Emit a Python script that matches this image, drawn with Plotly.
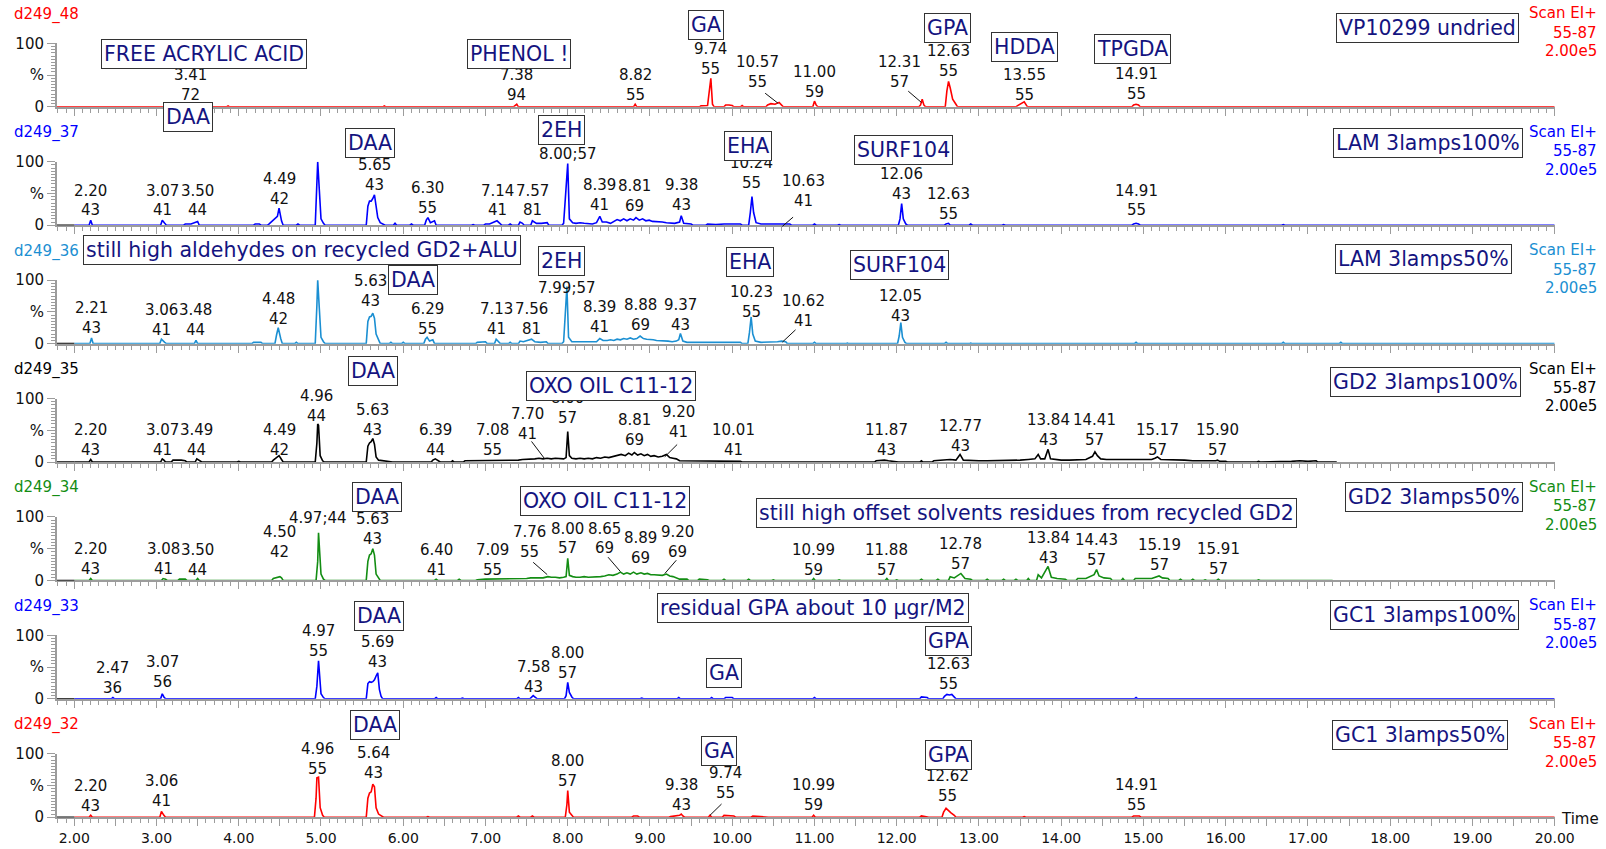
import plotly.graph_objects as go

# ------------------------------------------------------------------ data
panel_ids = ["d249_48", "d249_37", "d249_36", "d249_35", "d249_34", "d249_33", "d249_32"]
scan_lines = ["Scan EI+", "55-87", "2.00e5"]
time_ticks = [2.00, 3.00, 4.00, 5.00, 6.00, 7.00, 8.00, 9.00, 10.00, 11.00,
              12.00, 13.00, 14.00, 15.00, 16.00, 17.00, 18.00, 19.00, 20.00]
time_tick_text = ["2.00", "3.00", "4.00", "5.00", "6.00", "7.00", "8.00", "9.00", "10.00", "11.00",
                  "12.00", "13.00", "14.00", "15.00", "16.00", "17.00", "18.00", "19.00", "20.00"]
y_tick_vals = [0, 50, 100]
y_tick_text = ["0", "%", "100"]
trace_start = [1.79, 2.00, 2.00, 2.00, 2.00, 2.00, 2.00]
trace_end = [20.00, 20.00, 20.00, 17.35, 17.30, 20.00, 20.00]

# retention time (min) / relative intensity (%)
rt_1 = [3.41, 3.87, 5.77, 7.36, 7.38, 8.82, 9.62, 9.70, 9.74, 9.76, 9.92, 9.96, 10.00, 10.12,
        10.43, 10.47, 10.52, 10.57, 10.60, 11.00, 11.02, 12.29, 12.31, 12.33, 12.61, 12.63,
        12.65, 12.68, 12.72, 13.47, 13.55, 13.57, 14.88, 14.91, 14.94, 17.24, 19.14]
pct_1 = [2, 1.5, 1.5, 2, 4, 4, 1.5, 2, 45, 4, 3, 3, 2, 2,
         3, 5, 4, 7, 2, 9, 3, 3, 12, 3, 25, 40,
         30, 12, 4, 2, 8, 3, 3, 4, 3, 1, 1]

rt_2 = [2.20, 3.07, 3.10, 3.35, 3.42, 3.50, 4.20, 4.25, 4.37, 4.47, 4.49, 4.52, 4.72, 4.95, 4.96,
        4.98, 5.00, 5.03, 5.57, 5.59, 5.61, 5.63, 5.65, 5.67, 5.69, 5.72, 5.76, 5.90, 6.10, 6.28,
        6.30, 6.33, 6.38, 6.85, 7.00, 7.05, 7.14, 7.18, 7.30, 7.42, 7.45, 7.57, 7.62, 7.68, 7.75,
        7.95, 8.00, 8.02, 8.06, 8.10, 8.15, 8.20, 8.25, 8.30, 8.35, 8.39, 8.42, 8.47, 8.52, 8.56,
        8.60, 8.64, 8.68, 8.72, 8.76, 8.80, 8.83, 8.87, 8.91, 8.95, 8.99, 9.03, 9.07, 9.11, 9.15,
        9.20, 9.25, 9.30, 9.36, 9.38, 9.41, 9.50, 9.70, 9.80, 9.90, 10.00, 10.10, 10.22, 10.24,
        10.26, 10.29, 10.35, 10.45, 10.55, 10.61, 10.65, 10.70, 11.00, 11.30, 11.60, 11.80, 12.04,
        12.06, 12.08, 12.11, 12.40, 12.60, 12.63, 12.90, 13.30, 13.60, 14.20, 14.50, 14.88, 14.91,
        14.94, 16.70, 17.30, 18.60, 19.80]
pct_2 = [8, 8, 3, 2, 2, 6, 2, 2, 2, 14, 27, 7, 2, 55, 100,
         55, 10, 3, 30, 38, 38, 42, 48, 30, 12, 4, 2, 3, 2, 8,
         12, 4, 7, 1, 2, 2, 7, 3, 2, 5, 3, 7, 3, 3, 4,
         3, 97, 10, 4, 3, 4, 3, 3, 2, 4, 14, 5, 5, 3, 6,
         9, 7, 10, 7, 10, 8, 12, 8, 10, 7, 8, 6, 6, 5, 5,
         4, 4, 3, 5, 15, 3, 2, 2, 1, 2, 2, 2, 20, 45,
         20, 4, 2, 2, 2, 3, 3, 2, 2, 1, 1, 1, 10,
         34, 10, 2, 1, 2, 3, 2, 1, 1, 1, 1, 2, 3,
         2, 1, 1, 1, 1]

rt_3 = [2.21, 3.06, 3.10, 3.48, 4.18, 4.27, 4.46, 4.48, 4.51, 4.70, 4.95, 4.96, 4.98, 5.00, 5.03,
        5.57, 5.59, 5.61, 5.63, 5.65, 5.67, 5.70, 5.85, 6.00, 6.27, 6.29, 6.32, 6.36, 6.90, 7.00,
        7.13, 7.16, 7.30, 7.42, 7.46, 7.56, 7.60, 7.67, 7.74, 7.95, 7.99, 8.01, 8.05, 8.10, 8.15,
        8.20, 8.30, 8.35, 8.39, 8.43, 8.48, 8.52, 8.56, 8.60, 8.64, 8.68, 8.72, 8.76, 8.80, 8.84,
        8.88, 8.92, 8.96, 9.00, 9.04, 9.08, 9.12, 9.17, 9.22, 9.27, 9.32, 9.35, 9.37, 9.40, 9.45,
        9.50, 9.60, 9.70, 9.80, 9.90, 10.00, 10.10, 10.21, 10.23, 10.25, 10.28, 10.35, 10.45,
        10.55, 10.60, 10.65, 11.00, 11.40, 11.70, 11.80, 12.03, 12.05, 12.07, 12.10, 12.60, 12.90,
        14.91, 16.70, 17.40]
pct_3 = [9, 7, 2, 5, 2, 2, 14, 25, 8, 2, 60, 100, 55, 10, 3,
         35, 42, 43, 48, 40, 15, 4, 2, 2, 7, 10, 4, 6, 2, 3,
         7, 3, 2, 4, 3, 7, 3, 2, 3, 3, 90, 10, 3, 3, 3,
         2, 3, 3, 8, 5, 5, 6, 5, 7, 6, 8, 7, 9, 7, 8,
         12, 8, 7, 7, 6, 5, 5, 4, 4, 3, 4, 6, 16, 4, 2,
         2, 2, 2, 2, 2, 2, 2, 18, 42, 15, 4, 2, 2,
         3, 4, 3, 2, 1, 1, 1, 12, 33, 10, 2, 2, 1,
         2, 2, 2]

rt_4 = [2.20, 3.07, 3.09, 3.20, 3.30, 3.35, 3.49, 3.53, 4.00, 4.42, 4.49, 4.52, 4.95, 4.96, 4.97,
        4.99, 5.02, 5.57, 5.59, 5.61, 5.63, 5.65, 5.67, 5.70, 5.75, 5.85, 6.36, 6.39, 6.43, 6.60,
        6.75, 6.85, 6.95, 7.00, 7.05, 7.10, 7.15, 7.20, 7.25, 7.30, 7.35, 7.40, 7.45, 7.50, 7.55,
        7.60, 7.65, 7.70, 7.75, 7.80, 7.85, 7.90, 7.95, 7.98, 8.00, 8.02, 8.05, 8.10, 8.15, 8.20,
        8.25, 8.30, 8.35, 8.40, 8.45, 8.50, 8.55, 8.60, 8.65, 8.70, 8.74, 8.78, 8.81, 8.85, 8.89,
        8.93, 8.97, 9.01, 9.05, 9.10, 9.15, 9.20, 9.24, 9.28, 9.32, 9.36, 9.40, 9.50, 9.60, 9.70,
        9.80, 9.90, 10.01, 10.10, 10.40, 10.70, 11.00, 11.30, 11.50, 11.75, 11.85, 11.90, 12.00,
        12.30, 12.45, 12.55, 12.65, 12.72, 12.77, 12.81, 12.90, 13.00, 13.10, 13.20, 13.30, 13.40,
        13.50, 13.60, 13.68, 13.72, 13.75, 13.80, 13.84, 13.87, 13.92, 14.00, 14.10, 14.20, 14.30,
        14.38, 14.41, 14.44, 14.48, 14.55, 14.60, 14.70, 14.80, 14.90, 15.00, 15.10, 15.14, 15.17,
        15.21, 15.30, 15.40, 15.50, 15.60, 15.70, 15.80, 15.88, 15.90, 15.93, 16.00, 16.40, 16.80,
        16.90, 17.00, 17.10]
pct_4 = [4, 5, 3, 3, 3, 2, 5, 2, 1, 3, 10, 4, 30, 60, 58,
         10, 2, 25, 30, 32, 37, 28, 8, 3, 2, 1, 3, 5, 2, 2,
         2, 2, 2, 3, 2, 3, 3, 2, 3, 3, 2, 3, 4, 4, 5,
         5, 6, 5, 6, 5, 6, 5, 5, 7, 48, 10, 6, 5, 6, 5,
         6, 5, 7, 6, 8, 7, 9, 10, 12, 10, 14, 11, 15, 11, 13,
         10, 12, 9, 10, 8, 9, 12, 7, 6, 5, 2, 2, 2, 2, 2,
         1, 2, 2, 1, 1, 1, 1, 1, 1, 2, 3, 2, 1,
         2, 2, 3, 4, 3, 12, 3, 2, 2, 2, 2, 3, 3,
         3, 4, 5, 12, 5, 5, 20, 5, 4, 3, 3, 4, 4,
         9, 16, 10, 5, 4, 4, 4, 3, 4, 3, 4, 6, 8,
         4, 4, 3, 3, 2, 2, 1, 2, 3, 1, 1, 1, 1,
         2, 1, 2]

rt_5 = [2.20, 3.08, 3.11, 3.28, 3.35, 3.50, 4.42, 4.50, 4.52, 4.96, 4.97, 4.98, 5.00, 5.03, 5.57,
        5.59, 5.61, 5.63, 5.65, 5.67, 5.70, 6.40, 6.68, 6.90, 7.00, 7.10, 7.15, 7.20, 7.25, 7.30,
        7.35, 7.40, 7.45, 7.50, 7.55, 7.60, 7.65, 7.70, 7.76, 7.80, 7.85, 7.90, 7.95, 7.98, 8.00,
        8.02, 8.06, 8.10, 8.15, 8.20, 8.25, 8.30, 8.35, 8.40, 8.45, 8.50, 8.55, 8.60, 8.64, 8.68,
        8.72, 8.76, 8.80, 8.84, 8.89, 8.93, 8.97, 9.01, 9.05, 9.10, 9.15, 9.20, 9.24, 9.28, 9.32,
        9.36, 9.45, 9.60, 9.70, 9.90, 10.20, 10.50, 10.99, 11.30, 11.50, 11.88, 12.00, 12.30,
        12.50, 12.65, 12.70, 12.78, 12.83, 12.90, 13.10, 13.30, 13.45, 13.60, 13.72, 13.76, 13.84,
        13.88, 13.95, 14.05, 14.20, 14.30, 14.40, 14.43, 14.46, 14.52, 14.60, 14.75, 14.90, 15.00,
        15.10, 15.19, 15.23, 15.30, 15.45, 15.60, 15.75, 15.91, 16.40, 16.90, 17.20]
pct_5 = [3, 3, 2, 2, 2, 3, 3, 6, 4, 30, 75, 50, 10, 2, 30,
         40, 42, 50, 40, 10, 3, 2, 2, 1, 2, 2, 3, 2, 3, 2,
         3, 3, 3, 3, 4, 4, 5, 4, 6, 5, 5, 4, 5, 6, 35,
         8, 6, 5, 5, 6, 5, 5, 6, 6, 7, 9, 8, 10, 13, 10,
         12, 10, 13, 10, 12, 10, 11, 9, 9, 8, 8, 10, 7, 6, 4,
         2, 2, 2, 1, 2, 2, 1, 3, 1, 1, 3, 1, 2,
         2, 6, 4, 11, 3, 2, 2, 2, 2, 3, 9, 4, 22,
         5, 3, 2, 3, 3, 9, 17, 7, 4, 3, 3, 3, 3,
         3, 7, 4, 3, 2, 2, 1, 2, 1, 1, 1]

rt_6 = [2.47, 3.07, 3.09, 4.95, 4.97, 4.98, 5.00, 5.03, 5.57, 5.59, 5.61, 5.63, 5.65, 5.67, 5.69,
        5.71, 5.73, 6.40, 6.72, 7.40, 7.56, 7.58, 7.61, 7.98, 8.00, 8.02, 8.05, 8.90, 9.20, 9.35,
        9.75, 9.92, 10.00, 10.23, 10.62, 11.00, 12.30, 12.37, 12.58, 12.61, 12.64, 12.67, 12.70,
        14.91]
pct_6 = [2, 8, 3, 20, 60, 40, 8, 2, 24, 27, 26, 27, 30, 36, 41,
         15, 4, 2, 1, 2, 3, 5, 2, 5, 26, 10, 3, 1, 1, 2,
         2, 2, 2, 1, 1, 2, 3, 2, 4, 7, 6, 7, 3,
         2]

rt_7 = [2.20, 3.06, 3.09, 4.94, 4.95, 4.97, 4.99, 5.02, 5.57, 5.59, 5.61, 5.63, 5.65, 5.67, 5.70,
        5.74, 6.30, 7.40, 7.57, 7.99, 8.00, 8.02, 8.05, 8.80, 8.85, 9.25, 9.36, 9.38, 9.40, 9.73,
        9.90, 9.95, 10.02, 10.25, 10.35, 10.42, 10.99, 12.02, 12.30, 12.37, 12.57, 12.60, 12.63,
        12.66, 12.70, 13.55, 13.85, 14.88, 14.91, 14.95, 15.42, 16.60]
pct_7 = [3, 9, 3, 30, 62, 63, 15, 3, 30, 38, 40, 52, 48, 15, 5,
         2, 1, 2, 2, 20, 42, 8, 2, 2, 2, 1, 3, 5, 2, 3,
         3, 3, 2, 2, 1, 1, 3, 1, 2, 1, 8, 14, 10,
         7, 3, 1, 1, 2, 2, 2, 1, 1]

rts = [rt_1, rt_2, rt_3, rt_4, rt_5, rt_6, rt_7]
pcts = [pct_1, pct_2, pct_3, pct_4, pct_5, pct_6, pct_7]

# peak labels (retention time ; base-peak mass)
labels_1 = [("3.41", "72"), ("7.38", "94"), ("8.82", "55"), ("9.74", "55"), ("10.57", "55"),
            ("11.00", "59"), ("12.31", "57"), ("12.63", "55"), ("13.55", "55"), ("14.91", "55")]
labels_2 = [("2.20", "43"), ("3.07", "41"), ("3.50", "44"), ("4.49", "42"), ("5.65", "43"),
            ("6.30", "55"), ("7.14", "41"), ("7.57", "81"), ("8.00;57",), ("8.39", "41"),
            ("8.81", "69"), ("9.38", "43"), ("10.24", "55"), ("10.63", "41"), ("12.06", "43"),
            ("12.63", "55"), ("14.91", "55")]
labels_3 = [("2.21", "43"), ("3.06", "41"), ("3.48", "44"), ("4.48", "42"), ("5.63", "43"),
            ("6.29", "55"), ("7.13", "41"), ("7.56", "81"), ("7.99;57",), ("8.39", "41"),
            ("8.88", "69"), ("9.37", "43"), ("10.23", "55"), ("10.62", "41"), ("12.05", "43")]
labels_4 = [("2.20", "43"), ("3.07", "41"), ("3.49", "44"), ("4.49", "42"), ("4.96", "44"),
            ("5.63", "43"), ("6.39", "44"), ("7.08", "55"), ("7.70", "41"), ("8.00", "57"),
            ("8.81", "69"), ("9.20", "41"), ("10.01", "41"), ("11.87", "43"), ("12.77", "43"),
            ("13.84", "43"), ("14.41", "57"), ("15.17", "57"), ("15.90", "57")]
labels_5 = [("2.20", "43"), ("3.08", "41"), ("3.50", "44"), ("4.50", "42"), ("4.97;44",),
            ("5.63", "43"), ("6.40", "41"), ("7.09", "55"), ("7.76", "55"), ("8.00", "57"),
            ("8.65", "69"), ("8.89", "69"), ("9.20", "69"), ("10.99", "59"), ("11.88", "57"),
            ("12.78", "57"), ("13.84", "43"), ("14.43", "57"), ("15.19", "57"), ("15.91", "57")]
labels_6 = [("2.47", "36"), ("3.07", "56"), ("4.97", "55"), ("5.69", "43"), ("7.58", "43"),
            ("8.00", "57"), ("12.63", "55")]
labels_7 = [("2.20", "43"), ("3.06", "41"), ("4.96", "55"), ("5.64", "43"), ("8.00", "57"),
            ("9.38", "43"), ("9.74", "55"), ("10.99", "59"), ("12.62", "55"), ("14.91", "55")]
labels = [labels_1, labels_2, labels_3, labels_4, labels_5, labels_6, labels_7]

# compound / sample boxes
boxes_1 = ["FREE ACRYLIC ACID", "PHENOL !", "GA", "GPA", "HDDA", "TPGDA", "VP10299 undried"]
boxes_2 = ["DAA", "DAA", "2EH", "EHA", "SURF104", "LAM 3lamps100%"]
boxes_3 = ["still high aldehydes on recycled GD2+ALU", "DAA", "2EH", "EHA", "SURF104", "LAM 3lamps50%"]
boxes_4 = ["DAA", "OXO OIL C11-12", "GD2 3lamps100%"]
boxes_5 = ["DAA", "OXO OIL C11-12", "still high offset solvents residues from recycled GD2", "GD2 3lamps50%"]
boxes_6 = ["DAA", "residual GPA about 10 µgr/M2", "GA", "GPA", "GC1 3lamps100%"]
boxes_7 = ["DAA", "GA", "GPA", "GC1 3lamps50%"]
boxes = [boxes_1, boxes_2, boxes_3, boxes_4, boxes_5, boxes_6, boxes_7]

# ------------------------------------------------------------------ layout / positions
# label positions: (x in minutes, y of first text line in reference pixels)
label_pos = [
    [(3.41, 73), (7.38, 73), (8.82, 73), (9.74, 48), (10.31, 61), (11.00, 70), (12.03, 61),
     (12.63, 50), (13.55, 73), (14.91, 72)],
    [(2.20, 186), (3.07, 186), (3.50, 186), (4.49, 175), (5.65, 161), (6.30, 184), (7.14, 186),
     (7.57, 186), (8.00, 150), (8.39, 181), (8.81, 182), (9.38, 181), (10.24, 159), (10.87, 177),
     (12.06, 170), (12.63, 189), (14.91, 186)],
    [(2.21, 301), (3.06, 303), (3.48, 303), (4.48, 292), (5.60, 274), (6.29, 302), (7.13, 302),
     (7.56, 302), (7.99, 281), (8.39, 300), (8.88, 298), (9.37, 298), (10.23, 285), (10.87, 294),
     (12.05, 289)],
    [(2.20, 420), (3.07, 420), (3.49, 420), (4.49, 420), (4.94, 387), (5.63, 400), (6.39, 420),
     (7.09, 420), (7.51, 404), (8.00, 389), (8.81, 410), (9.35, 402), (10.01, 420), (11.87, 420),
     (12.77, 416), (13.84, 410), (14.41, 410), (15.17, 420), (15.90, 420)],
    [(2.20, 536), (3.08, 536), (3.50, 537), (4.50, 519), (4.96, 506), (5.63, 507), (6.40, 537),
     (7.09, 537), (7.54, 519), (8.00, 516), (8.45, 516), (8.89, 525), (9.34, 519), (10.99, 537),
     (11.88, 537), (12.78, 531), (13.84, 525), (14.43, 527), (15.19, 532), (15.91, 536)],
    [(2.47, 652), (3.07, 646), (4.97, 616), (5.69, 627), (7.58, 651), (8.00, 638), (12.63, 648)],
    [(2.20, 767), (3.06, 763), (4.96, 731), (5.64, 735), (8.00, 743), (9.38, 766), (9.92, 755),
     (10.99, 766), (12.62, 758), (14.91, 766)],
]
# box centres in reference pixels
box_pos = [
    [(199, 53), (507, 53), (689, 24), (925, 27), (1000, 46), (1106, 48), (1394, 27)],
    [(184, 114), (361, 140), (548, 127), (730, 143), (882, 146), (1394, 140)],
    [(295, 244), (403, 273), (548, 255), (732, 256), (878, 259), (1390, 253)],
    [(364, 362), (597, 377), (1392, 373)],
    [(368, 485), (591, 489), (1002, 501), (1400, 485)],
    [(370, 601), (794, 594), (707, 657), (926, 626), (1391, 600)],
    [(366, 708), (702, 733), (926, 737), (1386, 718)],
]
# leader lines: (panel, t0, y0px, t1, y1px)
leaders = [
    (0, 10.40, 91, 10.56, 101), (0, 12.14, 89, 12.30, 100),
    (1, 10.74, 212, 10.61, 221), (2, 10.77, 322, 10.61, 334),
    (3, 7.56, 431, 7.72, 448), (3, 9.33, 434, 9.18, 446),
    (4, 7.58, 549, 7.75, 561), (4, 8.49, 544, 8.64, 558), (4, 9.32, 547, 9.18, 560),
    (6, 9.87, 785, 9.73, 796),
]

colors = ["#ff0000", "#0000ff", "#1b8fd2", "#000000", "#138d13", "#0000ff", "#ff0000"]
NAVY = "#14147f"
AXC = "#9c9c9c"
FONT = "DejaVu Sans"

S = 1606 / 1568
FIG_W, FIG_H = 1606, 849
X_RANGE = [1.79, 20.0]
PITCH = 115.6


def px_x(xs):
    return (xs * S) / FIG_W


def px_y(ys):
    return 1 - (ys * S) / FIG_H


def t2px(t):
    return 72.5 + (t - 2.0) * 80.3


def chromatogram(r, p, t0, t1, w=0.02, join=0.11):
    pairs = sorted(zip(r, p))
    xs, ys = [t0], [0.0]
    i, n = 0, len(pairs)
    while i < n:
        j = i
        while j + 1 < n and pairs[j + 1][0] - pairs[j][0] <= join:
            j += 1
        xs.append(pairs[i][0] - w); ys.append(0.0)
        for q in range(i, j + 1):
            xs.append(pairs[q][0]); ys.append(pairs[q][1])
        xs.append(pairs[j][0] + w); ys.append(0.0)
        i = j + 1
    xs.append(t1); ys.append(0.0)
    return xs, ys


fig = go.Figure()
layout = dict(width=FIG_W, height=FIG_H, autosize=False,
              margin=dict(l=0, r=0, t=0, b=0, pad=0, autoexpand=False),
              paper_bgcolor="white", plot_bgcolor="white", showlegend=False,
              font=dict(family=FONT, size=14, color="#111"))
annotations, shapes = [], []

xdom = [px_x(t2px(X_RANGE[0])), px_x(t2px(X_RANGE[1]))]
major = [v / 2 for v in range(4, 41)]
major_text = []
for v in major:
    major_text.append(time_tick_text[time_ticks.index(v)] if v in time_ticks else "")

for k in range(7):
    s = "" if k == 0 else str(k + 1)
    y100 = 42.3 + k * PITCH
    y0 = 104.3 + k * PITCH
    ydom = [px_y(y0), px_y(y100)]
    xs, ys = chromatogram(rts[k], pcts[k], trace_start[k], trace_end[k])
    fig.add_trace(go.Scatter(x=xs, y=ys, mode="lines", xaxis="x" + s, yaxis="y" + s,
                             line=dict(color=colors[k], width=1.6), hoverinfo="skip"))
    layout["xaxis" + s] = dict(domain=xdom, range=X_RANGE, anchor="y" + s, showline=True,
                               automargin=False,
                               linecolor=AXC, linewidth=2, ticks="outside", ticklen=7,
                               tickwidth=1, tickcolor=AXC, tickmode="array", tickvals=major,
                               ticktext=major_text, showticklabels=(k == 6), showgrid=False,
                               zeroline=False, fixedrange=True,
                               tickfont=dict(family=FONT, size=14, color="#111"),
                               minor=dict(tickmode="linear", tick0=0, dtick=0.1, ticks="outside",
                                          ticklen=4, tickcolor=AXC, showgrid=False))
    layout["yaxis" + s] = dict(domain=ydom, range=[0, 100], anchor="x" + s, showline=True,
                               automargin=False,
                               linecolor=AXC, linewidth=2, ticks="outside", ticklen=8,
                               tickcolor=AXC, tickmode="array", tickvals=y_tick_vals,
                               ticktext=y_tick_text, showgrid=False, zeroline=False,
                               fixedrange=True,
                               tickfont=dict(family=FONT, size=15, color="#111"),
                               minor=dict(tickmode="linear", tick0=0, dtick=5, ticks="outside",
                                          ticklen=4, tickcolor=AXC, showgrid=False))
    if trace_start[k] > X_RANGE[0]:
        shapes.append(dict(type="line", xref="x" + s, yref="y" + s, x0=X_RANGE[0], x1=trace_start[k],
                           y0=0, y1=0, line=dict(color="black", width=1.6)))
    # sample id and scan info
    annotations.append(dict(text=panel_ids[k], xref="paper", yref="paper", x=px_x(12),
                            y=px_y(14 + k * PITCH), xanchor="left", yanchor="middle",
                            showarrow=False, font=dict(family=FONT, size=15, color=colors[k])))
    for txt, yy in zip(scan_lines, [13, 32, 50]):
        annotations.append(dict(text=txt, xref="paper", yref="paper", x=px_x(1561),
                                y=px_y(yy + k * PITCH), xanchor="right", yanchor="middle",
                                showarrow=False, font=dict(family=FONT, size=15, color=colors[k])))
    # peak labels
    for lab, (tx, ty) in zip(labels[k], label_pos[k]):
        for li, line in enumerate(lab):
            annotations.append(dict(text=line, xref="x" + s, yref="paper", x=tx,
                                    y=px_y(ty + li * 19.5), xanchor="center", yanchor="middle",
                                    showarrow=False, font=dict(family=FONT, size=15, color="#111")))

for (k, t0, yy0, t1, yy1) in leaders:
    s = "" if k == 0 else str(k + 1)
    shapes.append(dict(type="line", xref="x" + s, yref="paper", x0=t0, x1=t1,
                       y0=px_y(yy0), y1=px_y(yy1), line=dict(color="#111", width=1)))

# boxes drawn last so they sit on top of labels
for k in range(7):
    for txt, (bx, by) in zip(boxes[k], box_pos[k]):
        annotations.append(dict(text=txt, xref="paper", yref="paper", x=px_x(bx), y=px_y(by),
                                xanchor="center", yanchor="middle", showarrow=False,
                                bgcolor="white", bordercolor="#333", borderwidth=1, borderpad=2,
                                font=dict(family=FONT, size=20.5, color=NAVY)))

annotations.append(dict(text="Time", xref="paper", yref="paper", x=px_x(1543), y=px_y(800),
                        xanchor="center", yanchor="middle", showarrow=False,
                        font=dict(family=FONT, size=15, color="#111")))

layout["annotations"] = annotations
layout["shapes"] = shapes
fig.update_layout(**layout)
fig.write_html("out.html", config={"displayModeBar": False},
               post_script="document.documentElement.style.overflow='hidden';"
                           "document.body.style.margin='0';"
                           "document.body.style.overflow='hidden';")
